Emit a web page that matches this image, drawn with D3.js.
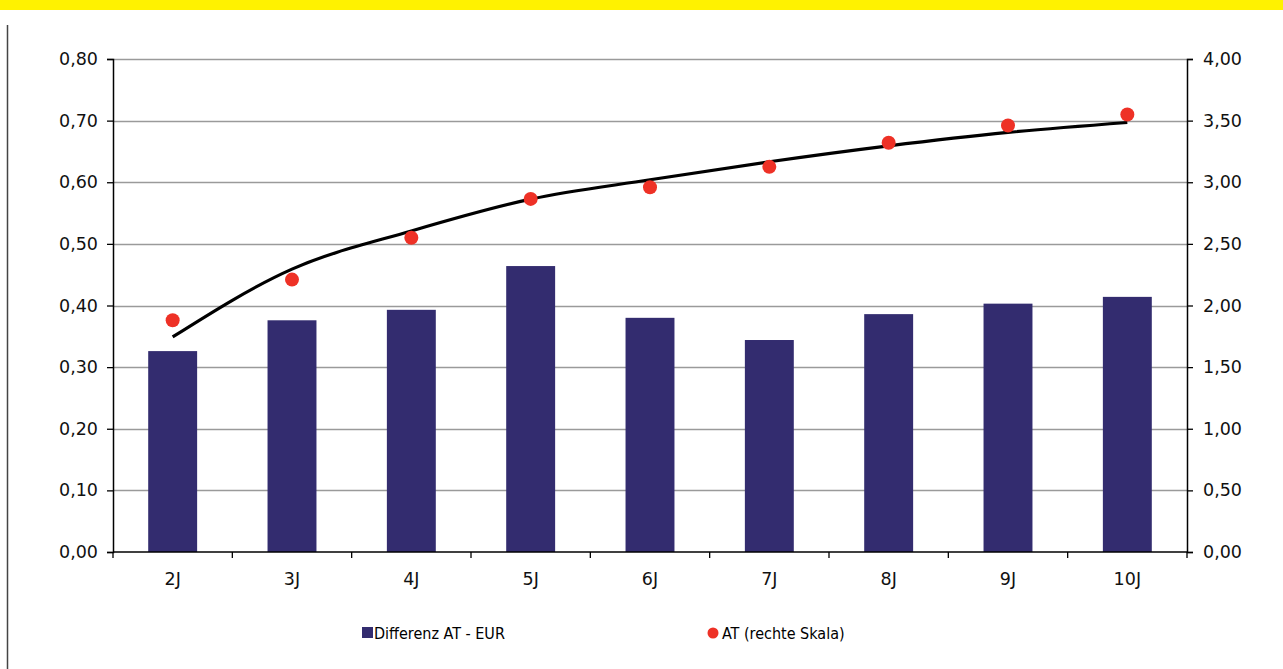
<!DOCTYPE html>
<html>
<head>
<meta charset="utf-8">
<script src="https://cdn.jsdelivr.net/npm/d3@7"></script>
<style>
  body { margin: 0; background: #fff; }
  svg { display: block; }
</style>
</head>
<body>
<div id="chart"></div>
<script>
// values
const categories = ['2J', '3J', '4J', '5J', '6J', '7J', '8J', '9J', '10J'];
const diffValues = [0.326, 0.376, 0.393, 0.464, 0.380, 0.344, 0.386, 0.403, 0.414];
const atValues = [1.88, 2.21, 2.55, 2.865, 2.96, 3.125, 3.32, 3.46, 3.55];
const trendValues = [1.745, 2.295, 2.605, 2.863, 3.02, 3.166, 3.295, 3.404, 3.485];
const leftTicks = [0, 0.1, 0.2, 0.3, 0.4, 0.5, 0.6, 0.7, 0.8];
const rightTicks = [0, 0.5, 1, 1.5, 2, 2.5, 3, 3.5, 4];
const legendLabels = ['Differenz AT - EUR', 'AT (rechte Skala)'];

const W = 1283, H = 669;
const margin = { top: 59, right: 96, bottom: 117, left: 113 };
const width = W - margin.left - margin.right;
const height = H - margin.top - margin.bottom;
const fmt = (d) => d.toFixed(2).replace('.', ',');
const tickFont = '"DejaVu Sans", sans-serif';
const narrowFont = '"DejaVu Sans Condensed", "DejaVu Sans", sans-serif';

const svg = d3.select('#chart').append('svg').attr('width', W).attr('height', H);

// yellow banner and left frame line
svg.append('rect').attr('x', 0).attr('y', 0).attr('width', W).attr('height', 10).attr('fill', '#fff200');
svg.append('line').attr('x1', 7.5).attr('x2', 7.5).attr('y1', 25).attr('y2', H)
  .attr('stroke', '#444').attr('stroke-width', 1.5);

const g = svg.append('g').attr('transform', `translate(${margin.left}, ${margin.top})`);

const x = d3.scaleBand().domain(categories).range([0, width]).paddingInner(0.59).paddingOuter(0.295);
const xc = (d) => x(d) + x.bandwidth() / 2;
const yL = d3.scaleLinear().domain([0, 0.8]).range([height, 0]);
const yR = d3.scaleLinear().domain([0, 4]).range([height, 0]);

// gridlines
g.selectAll('.grid').data(leftTicks.filter((d) => d > 0)).enter()
  .append('line')
  .attr('x1', 0).attr('x2', width)
  .attr('y1', (d) => Math.round(yL(d)) + 0.5).attr('y2', (d) => Math.round(yL(d)) + 0.5)
  .attr('stroke', '#9a9a9a').attr('stroke-width', 1.3);

// bars
g.selectAll('.bar').data(diffValues).enter()
  .append('rect')
  .attr('x', (d, i) => x(categories[i]))
  .attr('width', x.bandwidth())
  .attr('y', (d) => yL(d))
  .attr('height', (d) => height - yL(d))
  .attr('fill', '#332c6f');

// trend line
const line = d3.line()
  .x((d, i) => xc(categories[i]))
  .y((d) => yR(d))
  .curve(d3.curveMonotoneX);
g.append('path').datum(trendValues)
  .attr('d', line)
  .attr('fill', 'none')
  .attr('stroke', '#000')
  .attr('stroke-width', 3.2);

// dots
g.selectAll('.dot').data(atValues).enter()
  .append('circle')
  .attr('cx', (d, i) => xc(categories[i]))
  .attr('cy', (d) => yR(d))
  .attr('r', 7)
  .attr('fill', '#ee3126');

// axes
const leftAxis = g.append('g')
  .call(d3.axisLeft(yL).tickValues(leftTicks).tickFormat(fmt).tickSize(6).tickPadding(9));
const rightAxis = g.append('g').attr('transform', `translate(${width}, 0)`)
  .call(d3.axisRight(yR).tickValues(rightTicks).tickFormat(fmt).tickSize(6).tickPadding(10));
const xAxis = g.append('g').attr('transform', `translate(0, ${height})`)
  .call(d3.axisBottom(x).tickSize(0).tickPadding(21));

// x ticks at category boundaries
g.selectAll('.xtick').data(d3.range(categories.length + 1)).enter()
  .append('line')
  .attr('x1', (i) => i * width / categories.length).attr('x2', (i) => i * width / categories.length)
  .attr('y1', height).attr('y2', height + 6)
  .attr('stroke', '#000').attr('stroke-width', 1.3);

[leftAxis, rightAxis, xAxis].forEach((a) => {
  a.select('.domain').attr('stroke', '#000').attr('stroke-width', 1.5);
  a.selectAll('.tick line').attr('stroke', '#000').attr('stroke-width', 1.3);
  a.selectAll('text').style('font-family', tickFont).style('font-size', '17.5px').attr('fill', '#111');
});
xAxis.select('.domain').attr('d', `M0,0H${width}`);

// legend
const legend = svg.append('g').attr('transform', `translate(0, ${H - 36})`);
legend.append('rect').attr('x', 362).attr('y', -6).attr('width', 11).attr('height', 11).attr('fill', '#332c6f');
legend.append('text').attr('x', 374).attr('y', 0).attr('dy', '0.36em')
  .text(legendLabels[0])
  .style('font-family', narrowFont).style('font-size', '16px');
legend.append('circle').attr('cx', 713).attr('cy', 0).attr('r', 5.5).attr('fill', '#ee3126');
legend.append('text').attr('x', 722).attr('y', 0).attr('dy', '0.36em')
  .text(legendLabels[1])
  .style('font-family', narrowFont).style('font-size', '16px');
</script>
</body>
</html>
